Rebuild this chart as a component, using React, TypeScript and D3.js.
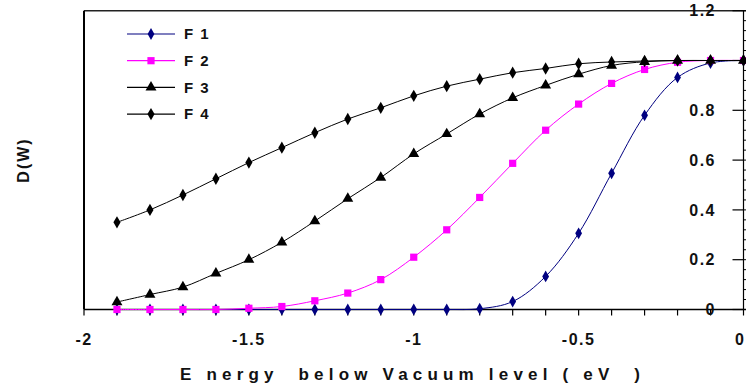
import React from "react";
import * as d3 from "d3";

const energy = [-1.9, -1.8, -1.7, -1.6, -1.5, -1.4, -1.3, -1.2, -1.1, -1.0, -0.9, -0.8, -0.7, -0.6, -0.5, -0.4, -0.3, -0.2, -0.1, 0];
const f1 = [0, 0, 0, 0, 0, 0, 0, 0, 0, 0, 0, 0.003, 0.032, 0.133, 0.306, 0.547, 0.78, 0.932, 0.99, 1.0];
const f2 = [0, 0, 0, 0, 0.005, 0.012, 0.035, 0.066, 0.12, 0.21, 0.32, 0.45, 0.587, 0.72, 0.825, 0.908, 0.964, 0.993, 1.0, 1.0];
const f3 = [0.03, 0.06, 0.09, 0.145, 0.2, 0.27, 0.355, 0.445, 0.53, 0.625, 0.705, 0.785, 0.85, 0.9, 0.945, 0.98, 0.995, 1.0, 1.0, 1.0];
const f4 = [0.35, 0.4, 0.46, 0.525, 0.59, 0.65, 0.71, 0.765, 0.81, 0.858, 0.897, 0.925, 0.951, 0.968, 0.987, 0.994, 0.998, 1.0, 1.0, 1.0];

const seriesNames = ["F 1", "F 2", "F 3", "F 4"];
const xTickLabels = [-2, -1.5, -1, -0.5, 0];
const yTickLabels = [0, 0.2, 0.4, 0.6, 0.8, 1.2];
const xTitle = "E nergy  below Vacuum level ( eV  )";
const yTitle = "D(W)";

const W = 746;
const H = 387;
const FONT = "'Liberation Sans', Arial, sans-serif";

export default function App() {
  const x = d3.scaleLinear().domain([-2, 0]).range([84, 743.5]);
  const y = d3.scaleLinear().domain([0, 1.2]).range([309.5, 10.7]);
  const line = d3
    .line<[number, number]>()
    .x((d) => x(d[0]))
    .y((d) => y(d[1]))
    .curve(d3.curveCatmullRom.alpha(0.5));

  const series = [
    { name: seriesNames[0], vals: f1, color: "#000080", sym: d3.symbolDiamond, size: 40 },
    { name: seriesNames[1], vals: f2, color: "#FF00FF", sym: d3.symbolSquare, size: 52 },
    { name: seriesNames[2], vals: f3, color: "#000000", sym: d3.symbolTriangle, size: 52 },
    { name: seriesNames[3], vals: f4, color: "#000000", sym: d3.symbolDiamond, size: 44 },
  ];

  const minorX = d3.range(0, 21).map((i) => -2 + i * 0.1);
  const minorY = d3.range(0, 31).map((i) => i * 0.04);
  const x0 = x(-2);
  const x1 = x(0);
  const y0 = y(0);
  const yTop = y(1.2);

  return (
    <svg width={W} height={H} style={{ position: "absolute", left: 0, top: 0, background: "#fff" }}>
      <rect x={0} y={0} width={W} height={H} fill="#fff" />
      {/* frame */}
      <line x1={x0} y1={yTop} x2={W} y2={yTop} stroke="#222" strokeWidth={1.5} />
      <line x1={x0} y1={yTop} x2={x0} y2={y0} stroke="#000" strokeWidth={2} />
      <line x1={x1} y1={yTop} x2={x1} y2={y0} stroke="#000" strokeWidth={1.2} />
      <line x1={x0} y1={y0} x2={W} y2={y0} stroke="#000" strokeWidth={1.5} />
      {/* x ticks */}
      {minorX.map((v, i) => (
        <line key={"xt" + i} x1={x(v)} x2={x(v)} y1={y0} y2={y0 + 6} stroke="#000" strokeWidth={1.2} />
      ))}
      {/* y major ticks (inward) */}
      {[0, 0.2, 0.4, 0.6, 0.8, 1.0, 1.2].map((v, i) => (
        <line key={"yt" + i} x1={x1 - 11} x2={x1} y1={y(v)} y2={y(v)} stroke="#000" strokeWidth={1.2} />
      ))}
      {/* y minor ticks (outward) */}
      {minorY.map((v, i) => (
        <line key={"ym" + i} x1={x1} x2={x1 + 4} y1={y(v)} y2={y(v)} stroke="#000" strokeWidth={1} />
      ))}
      {/* series */}
      {series.map((s, si) => {
        const pts: [number, number][] = energy.map((e, i) => [e, s.vals[i]]);
        const symPath = d3.symbol().type(s.sym).size(s.size)();
        return (
          <g key={"s" + si}>
            <path d={line(pts) || ""} fill="none" stroke={s.color} strokeWidth={1} />
            {pts.map((p, i) => (
              <path key={i} d={symPath || ""} transform={`translate(${x(p[0])},${y(p[1])})`} fill={s.color} />
            ))}
          </g>
        );
      })}
      {/* legend */}
      {series.map((s, si) => {
        const ly = 34 + si * 26.7;
        const symPath = d3.symbol().type(s.sym).size(s.size)();
        return (
          <g key={"l" + si}>
            <line x1={127} x2={175} y1={ly} y2={ly} stroke={s.color} strokeWidth={1.2} />
            <path d={symPath || ""} transform={`translate(151,${ly})`} fill={s.color} />
            <text x={184} y={ly} dy="0.35em" fontFamily={FONT} fontWeight="bold" fontSize={15} fill="#111" letterSpacing={1.5}>
              {s.name}
            </text>
          </g>
        );
      })}
      {/* y tick labels */}
      {yTickLabels.map((v, i) => (
        <text key={"yl" + i} x={716} y={y(v)} dy="0.35em" textAnchor="end" fontFamily={FONT} fontWeight="bold" fontSize={16} fill="#111" letterSpacing={1.5}>
          {v === 0 ? "0" : d3.format(".1f")(v)}
        </text>
      ))}
      {/* x tick labels */}
      {xTickLabels.map((v, i) => (
        <text key={"xl" + i} x={v === 0 ? x(v) - 4 : x(v)} y={345} textAnchor="middle" fontFamily={FONT} fontWeight="bold" fontSize={16} fill="#111" letterSpacing={v === 0 ? 0 : 1.5}>
          {v === 0 ? "0" : String(v)}
        </text>
      ))}
      {/* x title */}
      <text x={180} y={380} fontFamily={FONT} fontWeight="bold" fontSize={17} fill="#111" style={{ whiteSpace: "pre" }} textLength={460} lengthAdjust="spacing">
        {xTitle}
      </text>
      {/* y title */}
      <text transform="translate(29,160) rotate(-90)" textAnchor="middle" fontFamily={FONT} fontWeight="bold" fontSize={16} fill="#111" letterSpacing={2}>
        {yTitle}
      </text>
    </svg>
  );
}
